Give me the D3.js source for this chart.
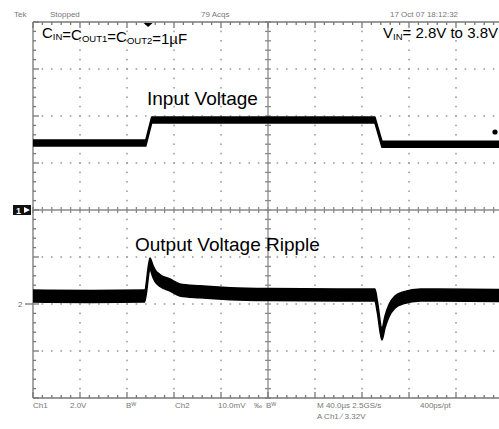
<!DOCTYPE html>
<html>
<head>
<meta charset="utf-8">
<script src="https://cdn.jsdelivr.net/npm/d3@7"></script>
<style>
  body { margin: 0; background: #fff; }
  svg { display: block; }
  text { font-family: "Liberation Sans", Arial, sans-serif; }
</style>
</head>
<body>
<div id="chart-area"></div>
<script>
var width = 499,
    height = 429;

// time in us (40us/div), ch1 in V (2V/div), ch2 in mV (10mV/div)
var inputTime  = [-200, -104, -99, 91, 97, 200];
var inputVolts = [2.85, 2.85, 3.83, 3.83, 2.8, 2.8];

var outputTime = [-200, -150, -105, -100.4, -98, -96, -92, -83, -75, -58, -32, 0, 60, 91, 93, 97, 99.6, 103, 108, 115, 130, 200];
var outputMv   = [1.7, 1.6, 1.7, 8.5, 7.0, 6.0, 5.0, 4.0, 3.0, 2.6, 2.2, 2.0, 1.9, 1.9, -0.5, -6.4, -3.8, -1.4, 0.4, 1.3, 1.9, 1.8];

var trigLevel = 3.32;
var trigTime = -102;

var topLabels = [["Tek", 14], ["Stopped", 50], ["79 Acqs", 201], ["17 Oct 07 18:12:32", 390]];
var bottomLabels = [["Ch1", 33, 408], ["2.0V", 70, 408], ["B\u1d42", 126, 408], ["Ch2", 175, 408], ["10.0mV", 218, 408],
                    ["\u2030", 254, 408], ["B\u1d42", 266, 408], ["M 40.0\u00b5s 2.5GS/s", 317, 408], ["400ps/pt", 420, 408],
                    ["A  Ch1  \u2215  3.32V", 317, 419]];

var svg = d3.select("#chart-area").append("svg")
    .attr("width", width)
    .attr("height", height);

var x = d3.scaleLinear().domain([-200, 200]).range([33, 503]);
var y1 = d3.scaleLinear().domain([-8, 8]).range([398, 22]);
var y2 = d3.scaleLinear().domain([-20, 60]).range([398, 22]);

var grey = "#8a8a8a";

// graticule dots along major lines
var majorX = d3.range(-160, 200, 40).filter(d => d != 0);
var majorY = d3.range(-6, 8, 2).filter(d => d != 0);
var minorX = d3.range(-200, 200.1, 8);
var minorY = d3.range(-8, 8.01, 0.4);

var dots = svg.append("g").attr("fill", "#a0a0a0");
majorY.forEach(function(v) {
  dots.selectAll(null).data(minorX.slice(1, -1)).enter().append("rect")
    .attr("x", d => x(d) - 0.8).attr("y", y1(v) - 0.8)
    .attr("width", 1.6).attr("height", 1.6);
});
majorX.forEach(function(t) {
  dots.selectAll(null).data(minorY.slice(1, -1)).enter().append("rect")
    .attr("x", x(t) - 0.8).attr("y", d => y1(d) - 0.8)
    .attr("width", 1.6).attr("height", 1.6);
});

// center axes with ticks
var axes = svg.append("g").attr("stroke", grey).attr("stroke-width", 1.3);
axes.append("line").attr("x1", x(-200)).attr("x2", x(200)).attr("y1", y1(0)).attr("y2", y1(0));
axes.append("line").attr("x1", x(0)).attr("x2", x(0)).attr("y1", y1(-8)).attr("y2", y1(8));
axes.selectAll(null).data(minorX).enter().append("line")
  .attr("x1", d => x(d)).attr("x2", d => x(d))
  .attr("y1", y1(0) - 3).attr("y2", y1(0) + 3);
axes.selectAll(null).data(minorY).enter().append("line")
  .attr("y1", d => y1(d)).attr("y2", d => y1(d))
  .attr("x1", x(0) - 3).attr("x2", x(0) + 3);

// frame with inward ticks
var frame = svg.append("g").attr("stroke", "#777").attr("stroke-width", 1.3);
frame.append("line").attr("x1", x(-200)).attr("x2", x(200)).attr("y1", y1(8)).attr("y2", y1(8));
frame.append("line").attr("x1", x(-200)).attr("x2", x(200)).attr("y1", y1(-8)).attr("y2", y1(-8));
frame.append("line").attr("x1", x(-200)).attr("x2", x(-200)).attr("y1", y1(8)).attr("y2", y1(-8));
function isMajor(v, step) { return Math.abs(v / step - Math.round(v / step)) < 1e-6; }
frame.selectAll(null).data(minorX).enter().append("line")
  .attr("x1", d => x(d)).attr("x2", d => x(d))
  .attr("y1", y1(8)).attr("y2", d => y1(8) + (isMajor(d, 40) ? 6 : 3));
frame.selectAll(null).data(minorX).enter().append("line")
  .attr("x1", d => x(d)).attr("x2", d => x(d))
  .attr("y1", y1(-8)).attr("y2", d => y1(-8) - (isMajor(d, 40) ? 6 : 3));
frame.selectAll(null).data(minorY).enter().append("line")
  .attr("y1", d => y1(d)).attr("y2", d => y1(d))
  .attr("x1", x(-200)).attr("x2", d => x(-200) + (isMajor(d, 2) ? 6 : 3));

// traces drawn as vertical noise bands
svg.append("clipPath").attr("id", "plot")
  .append("rect").attr("x", x(-200)).attr("y", y1(8)).attr("width", x(200) - x(-200)).attr("height", y1(-8) - y1(8));

var inBand = d3.area().x((d, i) => x(inputTime[i]))
  .y0(d => y1(d) + 3).y1(d => y1(d) - 3);
var outBand = d3.area().x((d, i) => x(outputTime[i]))
  .y0(d => y2(d) + 6).y1(d => y2(d) - 6).curve(d3.curveMonotoneX);

var traces = svg.append("g").attr("clip-path", "url(#plot)")
  .attr("fill", "#000").attr("stroke", "#000").attr("stroke-linejoin", "round");
traces.append("path").attr("d", inBand(inputVolts)).attr("stroke-width", 1.5);
traces.append("path").attr("d", outBand(outputMv)).attr("stroke-width", 1.5);

// trigger level dot and trigger position marker
svg.append("circle").attr("cx", 495).attr("cy", y1(trigLevel)).attr("r", 2.6).attr("fill", "#000");
svg.append("path")
  .attr("d", d3.line()([[x(trigTime) - 4.5, y1(8) + 1], [x(trigTime) + 4.5, y1(8) + 1], [x(trigTime), y1(8) + 5]]))
  .attr("fill", "#000");

// channel markers
svg.append("rect").attr("x", 13).attr("y", y1(0) - 5).attr("width", 18).attr("height", 10).attr("fill", "#111");
svg.append("text").attr("x", 16).attr("y", y1(0) + 3.5).attr("fill", "#fff")
  .attr("font-size", 9).attr("font-weight", "bold").text("1");
svg.append("path")
  .attr("d", d3.line()([[24, y1(0) - 3], [30, y1(0)], [24, y1(0) + 3]]))
  .attr("fill", "#fff");
svg.append("text").attr("x", 18).attr("y", y2(0) + 3).attr("fill", "#666")
  .attr("font-size", 8).text("2");
svg.append("line").attr("x1", 25).attr("x2", 33).attr("y1", y2(0)).attr("y2", y2(0))
  .attr("stroke", "#777").attr("stroke-width", 1.3);

// scope status text
svg.selectAll(".top").data(topLabels).enter().append("text")
  .attr("x", d => d[1]).attr("y", 17)
  .attr("font-size", 8).attr("fill", "#777")
  .text(d => d[0]);
svg.selectAll(".bot").data(bottomLabels).enter().append("text")
  .attr("x", d => d[1]).attr("y", d => d[2])
  .attr("font-size", 8).attr("fill", "#777")
  .text(d => d[0]);

// annotations
var cap = svg.append("text").attr("x", 42).attr("y", 38).attr("font-size", 15).attr("fill", "#000");
function sub(t, main) {
  cap.append("tspan").text(main);
  cap.append("tspan").attr("font-size", 9.5).attr("dy", 2).text(t);
  cap.append("tspan").attr("dy", -2).text("");
}
sub("IN", "C");
cap.append("tspan").text("=");
sub("OUT1", "C");
cap.append("tspan").text("=");
sub("OUT2", "C");
cap.append("tspan").text("=1\u00b5F");

var vin = svg.append("text").attr("x", 498).attr("y", 38).attr("font-size", 15)
  .attr("text-anchor", "end").attr("fill", "#000");
vin.append("tspan").text("V");
vin.append("tspan").attr("font-size", 9.5).attr("dy", 2).text("IN");
vin.append("tspan").attr("dy", -2).text("= 2.8V to 3.8V");

svg.append("text").attr("x", 147).attr("y", 105).attr("font-size", 19)
  .attr("fill", "#000").text("Input Voltage");
svg.append("text").attr("x", 135).attr("y", 251).attr("font-size", 19)
  .attr("fill", "#000").text("Output Voltage Ripple");
</script>
</body>
</html>
